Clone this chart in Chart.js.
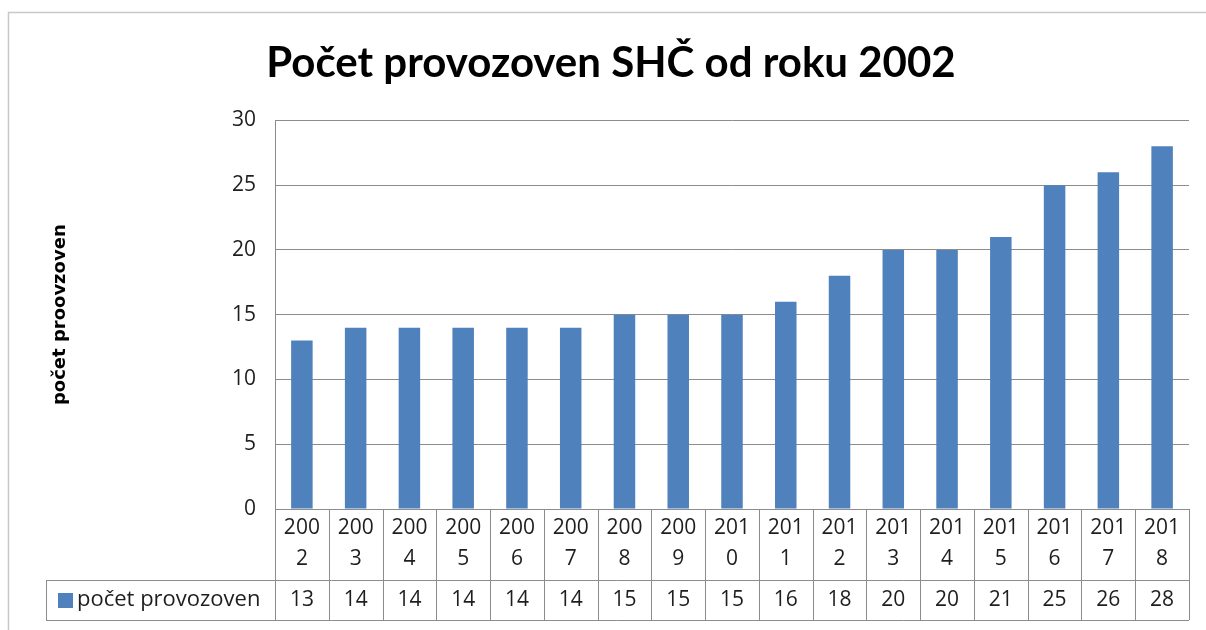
<!DOCTYPE html>
<html>
<head>
<meta charset="utf-8">
<script src="https://cdn.jsdelivr.net/npm/chart.js@4/dist/chart.umd.min.js"></script>
<style>
  html, body { margin: 0; padding: 0; background: #ffffff; }
  #wrap { width: 1206px; height: 630px; }
</style>
</head>
<body>
<div id="wrap"><canvas id="c" width="1206" height="630"></canvas></div>
<script>
const categories = ["2002","2003","2004","2005","2006","2007","2008","2009","2010","2011","2012","2013","2014","2015","2016","2017","2018"];
const seriesName = "počet provozoven";
const values = [13, 14, 14, 14, 14, 14, 15, 15, 15, 16, 18, 20, 20, 21, 25, 26, 28];
const yTicks = [0, 5, 10, 15, 20, 25, 30];
const chartTitle = "Počet provozoven SHČ od roku 2002";
const yTitle = "počet proovzoven";

const BAR = '#4f81bd';
const LINE = '#8c8c8c';
const TEXT = '#1e1e1e';

const frame = {
  id: 'frame',
  beforeDraw(chart) {
    const ctx = chart.ctx;
    ctx.save();
    ctx.fillStyle = '#ffffff';
    ctx.fillRect(0, 0, chart.width, chart.height);
    ctx.strokeStyle = '#c8c8c8';
    ctx.lineWidth = 1.5;
    ctx.strokeRect(8.5, 12.5, 1400, 800);
    ctx.restore();
  }
};

const dataTable = {
  id: 'dataTable',
  afterDraw(chart) {
    const ctx = chart.ctx;
    const x = chart.scales.x;
    const area = chart.chartArea;
    const n = categories.length;
    const cw = (x.right - x.left) / n;
    const top = area.bottom;
    const r1 = top + 71;
    const r2 = r1 + 40;
    const legLeft = 46;
    ctx.save();
    ctx.strokeStyle = LINE;
    ctx.lineWidth = 1;
    ctx.beginPath();
    ctx.moveTo(x.left, top + 0.5); ctx.lineTo(x.right, top + 0.5);
    ctx.moveTo(legLeft, r1 + 0.5); ctx.lineTo(x.right, r1 + 0.5);
    ctx.moveTo(legLeft, r2 + 0.5); ctx.lineTo(x.right, r2 + 0.5);
    ctx.moveTo(legLeft + 0.5, r1); ctx.lineTo(legLeft + 0.5, r2);
    for (let i = 0; i <= n; i++) {
      const px = Math.round(x.getPixelForValue(Math.min(i, n - 1)) + (i === n ? cw / 2 : -cw / 2)) + 0.5;
      ctx.moveTo(px, top); ctx.lineTo(px, r2);
    }
    ctx.stroke();
    ctx.fillStyle = TEXT;
    ctx.font = '21px "Open Sans"';
    ctx.textAlign = 'center';
    ctx.textBaseline = 'middle';
    categories.forEach((c, i) => {
      const cx = x.getPixelForValue(i);
      ctx.fillText(c.slice(0, 3), cx, top + 19);
      ctx.fillText(c.slice(3), cx, top + 50);
      ctx.fillText(String(values[i]), cx, r1 + 20);
    });
    ctx.fillStyle = BAR;
    ctx.fillRect(58, r1 + 13, 15, 15);
    ctx.fillStyle = TEXT;
    ctx.textAlign = 'left';
    ctx.font = '22px "Open Sans"';
    ctx.fillText(seriesName, 77, r1 + 20);
    ctx.restore();
  }
};

new Chart(document.getElementById('c'), {
  type: 'bar',
  data: {
    labels: categories,
    datasets: [{
      label: seriesName,
      data: values,
      backgroundColor: BAR,
      barPercentage: 0.4,
      categoryPercentage: 1.0
    }]
  },
  options: {
    responsive: false,
    animation: false,
    layout: { padding: { left: 33, right: 17, top: 0, bottom: 121 } },
    plugins: {
      legend: { display: false },
      tooltip: { enabled: false },
      title: {
        display: true,
        text: chartTitle,
        color: '#000000',
        font: { family: 'Lato', size: 42, weight: 'bold', lineHeight: 1.2 },
        padding: { top: 38, bottom: 32 }
      }
    },
    scales: {
      x: {
        display: false,
        offset: true
      },
      y: {
        min: 0,
        max: 30,
        afterBuildTicks(scale) { scale.ticks = yTicks.map(v => ({ value: v })); },
        afterFit(scale) { scale.width = 242; },
        grid: { color: LINE, lineWidth: 1, drawTicks: false },
        border: { display: true, color: LINE, width: 1 },
        ticks: {
          color: TEXT,
          padding: 19,
          font: { family: 'Open Sans', size: 21 }
        },
        title: {
          display: true,
          text: yTitle,
          color: '#000000',
          font: { family: 'DejaVu Sans', size: 18, weight: 'bold', lineHeight: 1.2 },
          padding: { top: 17, bottom: 0 }
        }
      }
    }
  },
  plugins: [frame, dataTable]
});
</script>
</body>
</html>
